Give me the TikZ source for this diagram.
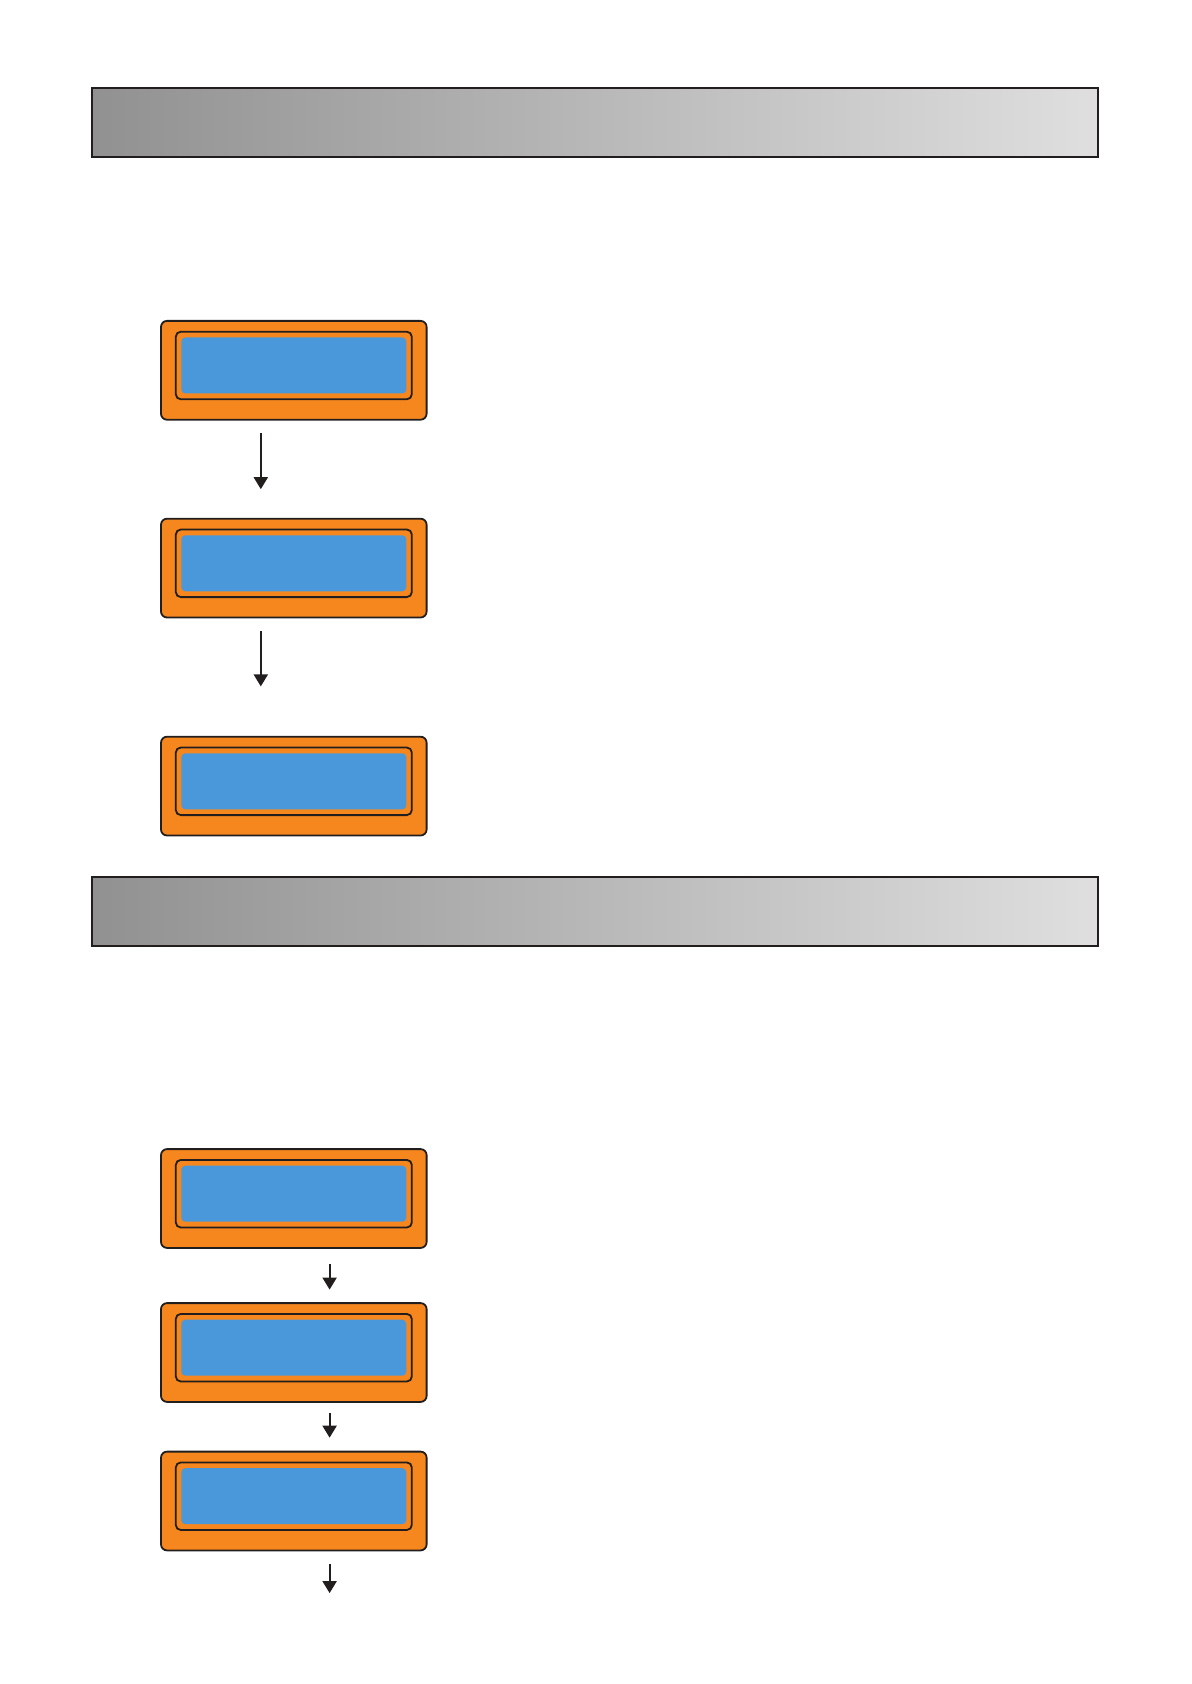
\documentclass[tikz,border=0pt]{standalone}
\usepackage{tikz}
\usetikzlibrary{positioning,arrows.meta}
\definecolor{lcdorange}{RGB}{245,135,30}
\definecolor{lcdblue}{RGB}{74,152,218}
\definecolor{barleft}{RGB}{146,145,146}
\definecolor{barright}{RGB}{223,223,223}
\definecolor{edge}{RGB}{34,30,30}

\begin{document}
\begin{tikzpicture}[x=0.5pt,y=-0.5pt,
                    bar/.style={draw=edge,line width=1pt,left color=barleft,right color=barright,
                                minimum width=502.8pt, minimum height=34.5pt,inner sep=0pt},
                    lcd/.style={draw=edge,line width=0.9pt,rounded corners=3pt,fill=lcdorange,
                                minimum width=132.8pt, minimum height=49.4pt,inner sep=0pt},
                    lcdframe/.style={draw=edge,line width=0.9pt,rounded corners=2.5pt,fill=lcdorange,
                                minimum width=118pt, minimum height=33.8pt,inner sep=0pt},
                    screen/.style={fill=lcdblue,rounded corners=2pt,
                                minimum width=112.5pt, minimum height=28pt,inner sep=0pt},
                    arr/.style={draw=edge,line width=1pt,-{Triangle[width=7pt,length=6pt]}}]
\useasboundingbox (0,0) rectangle (1191,1684);

% first section
\node[bar] (hdr1) at (595.2,122.5) {};
\node[lcd] (lcd1) at (293.8,370.3) {};
\node[lcdframe] (frame1) at ([yshift=2.4pt]lcd1.center) {};
\node[screen] (scr1) at (frame1) {};
\node[lcd] (lcd2) at (293.8,568.1) {};
\node[lcdframe] (frame2) at ([yshift=2.4pt]lcd2.center) {};
\node[screen] (scr2) at (frame2) {};
\node[lcd] (lcd3) at (293.8,786.1) {};
\node[lcdframe] (frame3) at ([yshift=2.4pt]lcd3.center) {};
\node[screen] (scr3) at (frame3) {};
\draw[arr,shorten <=6.3pt,shorten >=14.3pt] ([xshift=-16.5pt]lcd1.south) -- ([xshift=-16.5pt]lcd2.north);
\draw[arr,shorten <=6.2pt,shorten >=24.7pt] ([xshift=-16.5pt]lcd2.south) -- ([xshift=-16.5pt]lcd3.north);

% second section
\node[bar] (hdr2) at (595.2,911) {};
\node[lcd] (lcd4) at (293.8,1198.5) {};
\node[lcdframe] (frame4) at ([yshift=2.4pt]lcd4.center) {};
\node[screen] (scr4) at (frame4) {};
\node[lcd] (lcd5) at (293.8,1352.5) {};
\node[lcdframe] (frame5) at ([yshift=2.4pt]lcd5.center) {};
\node[screen] (scr5) at (frame5) {};
\node[lcd] (lcd6) at (293.8,1501) {};
\node[lcdframe] (frame6) at ([yshift=2.4pt]lcd6.center) {};
\node[screen] (scr6) at (frame6) {};
\coordinate (more) at ([xshift=17.9pt,yshift=-20.9pt]lcd6.south);
\draw[arr,shorten <=7.5pt,shorten >=6.3pt] ([xshift=17.9pt]lcd4.south) -- ([xshift=17.9pt]lcd5.north);
\draw[arr,shorten <=5.3pt,shorten >=6.5pt] ([xshift=17.9pt]lcd5.south) -- ([xshift=17.9pt]lcd6.north);
\draw[arr,shorten <=6.5pt] ([xshift=17.9pt]lcd6.south) -- (more);
\end{tikzpicture}
\end{document}
